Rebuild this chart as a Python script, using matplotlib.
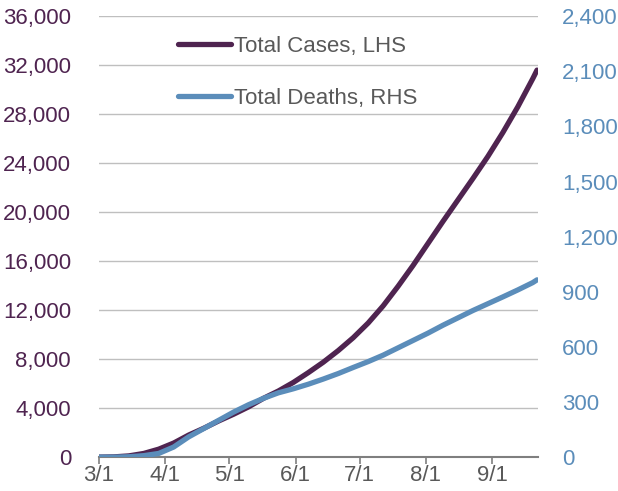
import matplotlib
matplotlib.use("Agg")
import numpy as np
import pandas as pd
import matplotlib.dates as mdates
from matplotlib import pyplot as plt

plt.rcParams['font.family'] = ['Liberation Sans', 'DejaVu Sans']

# weekly readings, 2020
dates = ["03-01", "03-08", "03-15", "03-22", "03-29", "04-05", "04-12", "04-19",
         "04-26", "05-03", "05-10", "05-17", "05-24", "05-31", "06-07", "06-14",
         "06-21", "06-28", "07-05", "07-12", "07-19", "07-26", "08-02", "08-09",
         "08-16", "08-23", "08-30", "09-06", "09-13", "09-20", "09-22"]
total_cases = [0, 20, 100, 300, 650, 1150, 1800, 2350, 2950, 3500, 4100, 4800,
               5400, 6100, 6900, 7750, 8700, 9750, 10950, 12350, 13950, 15650,
               17450, 19250, 21000, 22750, 24550, 26500, 28600, 30900, 31600]
total_deaths = [0, 0, 2, 8, 20, 55, 110, 155, 200, 245, 285, 320, 350, 372, 397,
                425, 455, 488, 520, 555, 595, 635, 675, 718, 758, 798, 835, 872,
                910, 950, 965]

left_ticks = np.arange(0, 36001, 4000)
right_ticks = np.arange(0, 2401, 300)
month_ticks = ["2020-03-01", "2020-04-01", "2020-05-01", "2020-06-01",
               "2020-07-01", "2020-08-01", "2020-09-01"]

purple = '#4F2450'
blue = '#5B8DBA'
grey = '#595959'

x = pd.to_datetime(["2020-" + d for d in dates])

fig = plt.figure(figsize=(6.18, 4.91), dpi=100)
ax = fig.add_axes([0.160, 0.069, 0.711, 0.898])
ax2 = ax.twinx()

l1, = ax.plot(x, total_cases, color=purple, lw=3.8, solid_capstyle='round',
              label='Total Cases, LHS')
l2, = ax2.plot(x, total_deaths, color=blue, lw=3.8, solid_capstyle='round',
               label='Total Deaths, RHS')

ax.set_ylim(0, 36000)
ax2.set_ylim(0, 2400)
ax.set_yticks(left_ticks)
ax2.set_yticks(right_ticks)
ax.set_yticklabels([f"{v:,}" for v in left_ticks])
ax2.set_yticklabels([f"{v:,}" for v in right_ticks])
ax.set_xlim(pd.Timestamp("2020-03-01"), pd.Timestamp("2020-09-22 14:00"))
ax.set_xticks(pd.to_datetime(month_ticks))
ax.xaxis.set_major_formatter(mdates.DateFormatter('%-m/%-d'))

ax.yaxis.grid(True, color='#BFBFBF', lw=1)
ax.set_axisbelow(True)

for a in (ax, ax2):
    for s in ('top', 'left', 'right', 'bottom'):
        a.spines[s].set_visible(False)
ax.spines['bottom'].set_visible(True)
ax.spines['bottom'].set_color('#7F7F7F')
ax.spines['bottom'].set_linewidth(1.5)

ax.tick_params(axis='y', length=0, pad=20, labelsize=16, labelcolor=purple)
ax2.tick_params(axis='y', length=0, pad=17, labelsize=16, labelcolor=blue)
ax.tick_params(axis='x', length=5, width=1.2, color='#7F7F7F', pad=1,
               labelsize=16, labelcolor=grey)

leg = ax2.legend(handles=[l1, l2], loc='upper left', bbox_to_anchor=(0.155, 0.98),
                 frameon=False, fontsize=16, handlelength=2.4, handletextpad=0.1,
                 labelspacing=1.4, borderpad=0)
for t in leg.get_texts():
    t.set_color(grey)

fig.savefig("out.png", dpi=100)
